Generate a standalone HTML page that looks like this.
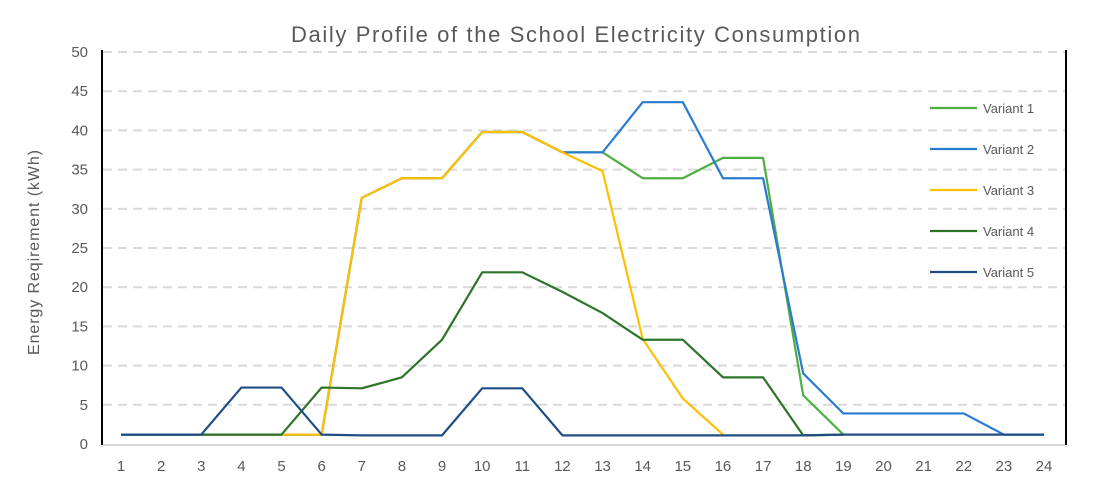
<!DOCTYPE html><html><head><style>body{margin:0;background:#fff}</style></head><body>
<svg width="1094" height="499" xmlns="http://www.w3.org/2000/svg" font-family="'Liberation Sans',sans-serif">
<rect width="1094" height="499" fill="#fff"/>
<text x="291" y="42" textLength="569" lengthAdjust="spacing" font-size="22" fill="#595959">Daily Profile of the School Electricity Consumption</text>
<g stroke="#d9d9d9" stroke-width="2" stroke-dasharray="9,6" id="grid"></g>
<line x1="102" y1="445" x2="1066" y2="445" stroke="#d9d9d9" stroke-width="2"/>
<line x1="102" y1="50" x2="102" y2="445" stroke="#000" stroke-width="2"/>
<line x1="1066" y1="50" x2="1066" y2="445" stroke="#000" stroke-width="2"/>
<g id="yl" font-size="15" fill="#595959" text-anchor="end"></g>
<g id="xl" font-size="15" fill="#595959" text-anchor="middle"></g>
<text transform="translate(39,355) rotate(-90)" textLength="205" lengthAdjust="spacing" font-size="16" fill="#595959">Energy Reqirement (kWh)</text>
<g id="s" fill="none" stroke-width="2.2" stroke-linejoin="round"></g>
<g font-size="13" fill="#595959" id="lg"></g>
</svg>
<script>
const ns="http://www.w3.org/2000/svg";
function el(t,a,p,txt){const e=document.createElementNS(ns,t);for(const k in a)e.setAttribute(k,a[k]);if(txt!==undefined)e.textContent=txt;document.getElementById(p).appendChild(e);}
const Y=v=>444-v*7.84, X=i=>121+(i-1)*40.13;
for(let v=0;v<=50;v+=5){ if(v>0) el('line',{x1:103,x2:1065,y1:Y(v),y2:Y(v)},'grid'); el('text',{x:88,y:Y(v)+5},'yl',v);}
for(let i=1;i<=24;i++) el('text',{x:X(i),y:471},'xl',i);
const b=1.2;
const S=[
["#4caf3f",[b,b,b,b,b,b,31.4,33.9,33.9,39.8,39.8,37.2,37.2,33.9,33.9,36.5,36.5,6.2,b]],
["#2b7bd0",[b,b,b,b,b,b,31.4,33.9,33.9,39.8,39.8,37.2,37.2,43.6,43.6,33.9,33.9,9,3.9,3.9,3.9,3.9,b,b]],
["#ffc000",[b,b,b,b,b,b,31.4,33.9,33.9,39.8,39.8,37.2,34.8,13.4,5.8,b]],
["#2e7428",[b,b,b,b,b,7.2,7.1,8.5,13.3,21.9,21.9,19.4,16.7,13.3,13.3,8.5,8.5,1.1,b]],
["#1f4e85",[b,b,b,7.2,7.2,b,1.1,1.1,1.1,7.1,7.1,1.1,1.1,1.1,1.1,1.1,1.1,1.1,b,b,b,b,b,b]]];
S.forEach((s,k)=>{el('polyline',{stroke:s[0],points:s[1].map((v,i)=>X(i+1)+','+Y(v)).join(' ')},'s');
const ly=108+k*41;el('line',{x1:930,x2:977,y1:ly,y2:ly,stroke:s[0],'stroke-width':2.2},'lg');el('text',{x:983,y:ly+5},'lg','Variant '+(k+1));});
</script>
</body></html>
